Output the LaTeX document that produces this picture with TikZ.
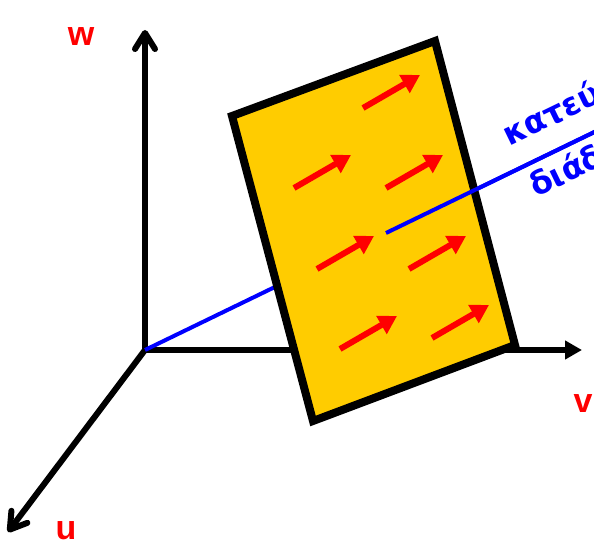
\documentclass[tikz,border=0pt]{standalone}
\usepackage{fontspec}
\setmainfont{Liberation Sans}
\newfontfamily\greekfont[Script=Greek]{DejaVu Sans}
\usetikzlibrary{arrows.meta}
\definecolor{platefill}{HTML}{FFCC00}
\definecolor{fieldred}{HTML}{FF0000}
\definecolor{rayblue}{HTML}{0000FF}

\begin{document}
\begin{tikzpicture}[x=1pt, y=1pt,
    axis/.style={line width=6pt, black},
    barb/.style={-{Straight Barb[length=16pt, width=20pt, round]}},
    axislabel/.style={text=fieldred, inner sep=0pt, font=\fontsize{34}{34}\selectfont\bfseries},
    ray/.style={line width=4pt, rayblue},
    raytext/.style={text=rayblue, rotate=25.9, anchor=base west, inner sep=0pt,
                    font=\greekfont\fontsize{32}{32}\selectfont\bfseries},
    field/.style={line width=6pt, fieldred, -{Triangle[length=18pt, width=20pt]}}]
  % frame of the picture, the ray text runs off the right edge
  \clip (0,0) rectangle (594,544);

  % u, v, w axes from the origin
  \coordinate (origin) at (145,194);
  \coordinate (wtip) at (145,514);
  \coordinate (vtip) at (582,194);
  \coordinate (utip) at (8,12);
  \draw[axis, barb] (origin) -- (wtip);
  \draw[axis, -{Triangle[length=17pt, width=18pt]}] (origin) -- (vtip);
  \draw[axis, barb] (origin) -- (utip);
  \node[axislabel] (wlabel) at (81,507) {w};
  \node[axislabel] (vlabel) at (583,140) {v};
  \node[axislabel] (ulabel) at (66,13) {u};

  % propagation ray: drawn whole first, the plate then hides its back part
  \coordinate (pierce) at (386,311);
  \coordinate (rayend) at (613,421);
  \draw[ray] (origin) -- (rayend);

  % the plate, a parallelogram in perspective
  \coordinate (tl) at (232,428);
  \coordinate (tr) at (435,503);
  \coordinate (br) at (515,199);
  \coordinate (bl) at (313,123);
  \draw[line width=8pt, fill=platefill, line join=miter] (tl) -- (tr) -- (br) -- (bl) -- cycle;

  % field arrows on the plate
  \foreach \x/\y in {363/436, 294/356, 386/356, 317/275, 409/275, 340/195, 432/206}
    \draw[field] (\x,\y) -- ++(57,33);

  % front part of the ray, from where it leaves the plate
  \draw[ray] (pierce) -- (rayend);
  \node[raytext] (rayup) at (509,397) {κατεύθυνση};
  \node[raytext] (raydown) at (536,346) {διάδοσης};
\end{tikzpicture}
\end{document}
